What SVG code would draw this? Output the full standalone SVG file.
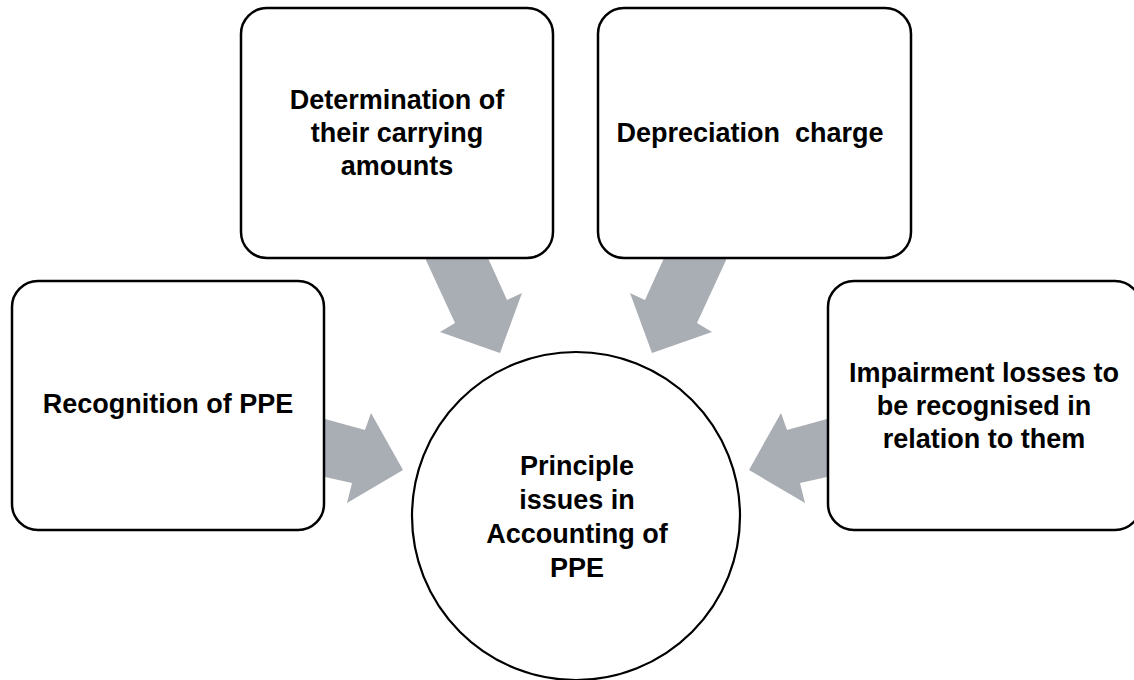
<svg xmlns="http://www.w3.org/2000/svg" width="1134" height="680" viewBox="0 0 1134 680">
  <style>
    .box { fill: #ffffff; stroke: #000000; stroke-width: 2.5; }
    .hub { fill: #ffffff; stroke: #000000; stroke-width: 2.2; }
    .arrow { fill: #A9ADB4; stroke: none; }
    .label { font-family: "Liberation Sans", Arial, sans-serif; font-weight: bold; font-size: 27px; fill: #000000; text-anchor: middle; white-space: pre; }
  </style>
  <rect width="1134" height="680" fill="#ffffff"/>

  <!-- block arrows pointing into the central circle -->
  <g id="connectors">
    <polygon class="arrow" points="425,258 488,258 507,300 522,293 500,353 440,332 455,323"/>
    <polygon class="arrow" points="727,258 664,258 645,300 630,293 652,353 712,332 697,323"/>
    <polygon class="arrow" points="325,419 365,430 371,413 403,470 347,503 352,483 325,477"/>
    <polygon class="arrow" points="827,419 787,430 781,413 749,470 805,503 800,483 827,477"/>
  </g>

  <g id="node-carrying-amounts">
    <rect class="box" x="241" y="8" width="312" height="250" rx="26" ry="26"/>
    <text class="label" x="397" y="109">Determination of</text>
    <text class="label" x="397" y="142">their carrying</text>
    <text class="label" x="397" y="175">amounts</text>
  </g>

  <g id="node-depreciation">
    <rect class="box" x="598" y="8" width="313" height="250" rx="26" ry="26"/>
    <text class="label" x="750" y="142" xml:space="preserve">Depreciation  charge</text>
  </g>

  <g id="node-recognition">
    <rect class="box" x="12" y="281" width="312" height="249" rx="26" ry="26"/>
    <text class="label" x="168" y="413">Recognition of PPE</text>
  </g>

  <g id="node-impairment">
    <rect class="box" x="828" y="281" width="313" height="249" rx="26" ry="26"/>
    <text class="label" x="984" y="382">Impairment losses to</text>
    <text class="label" x="984" y="415">be recognised in</text>
    <text class="label" x="984" y="448">relation to them</text>
  </g>

  <g id="node-principle-issues">
    <circle class="hub" cx="576" cy="516" r="164"/>
    <text class="label" x="577" y="475">Principle</text>
    <text class="label" x="577" y="509">issues in</text>
    <text class="label" x="577" y="543">Accounting of</text>
    <text class="label" x="577" y="577">PPE</text>
  </g>
</svg>
